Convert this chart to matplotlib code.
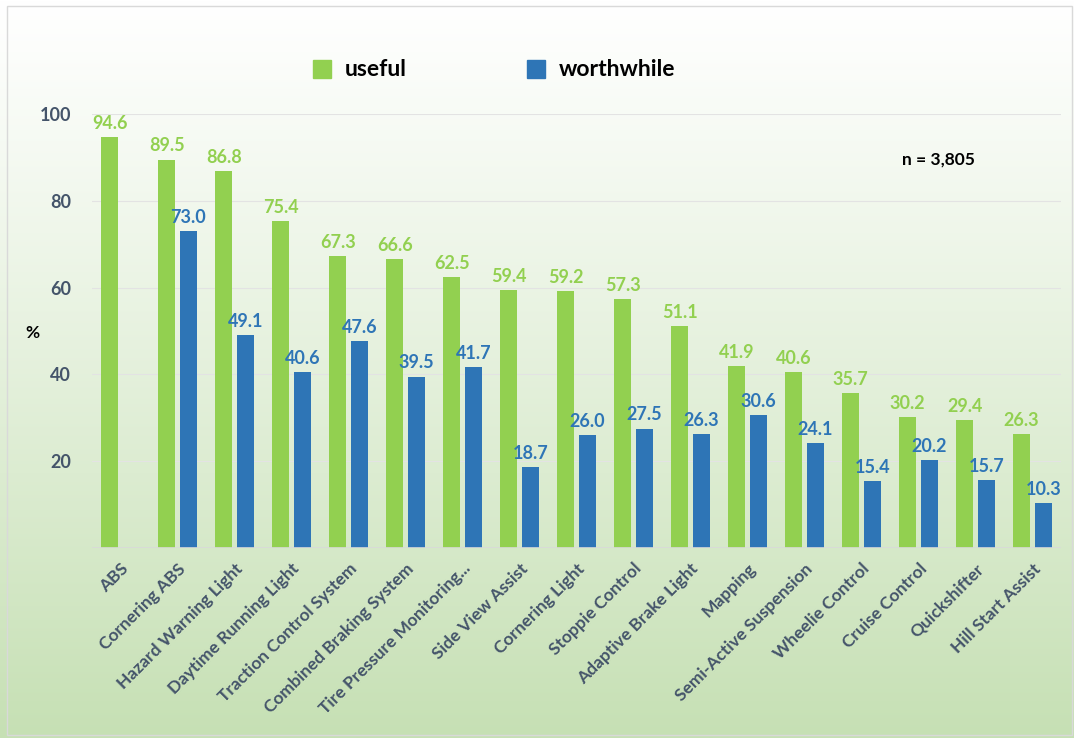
import numpy as np
import matplotlib.pyplot as plt
from matplotlib.patches import Rectangle

plt.rcParams['font.family'] = ['Lato', 'DejaVu Sans']

features = ['ABS', 'Cornering ABS', 'Hazard Warning Light', 'Daytime Running Light',
            'Traction Control System', 'Combined Braking System', 'Tire Pressure Monitoring...',
            'Side View Assist', 'Cornering Light', 'Stoppie Control', 'Adaptive Brake Light',
            'Mapping', 'Semi-Active Suspension', 'Wheelie Control', 'Cruise Control',
            'Quickshifter', 'Hill Start Assist']
useful = [94.6, 89.5, 86.8, 75.4, 67.3, 66.6, 62.5, 59.4, 59.2, 57.3, 51.1,
          41.9, 40.6, 35.7, 30.2, 29.4, 26.3]
worthwhile = [None, 73.0, 49.1, 40.6, 47.6, 39.5, 41.7, 18.7, 26.0, 27.5, 26.3,
              30.6, 24.1, 15.4, 20.2, 15.7, 10.3]
yticks = [20, 40, 60, 80, 100]

GREEN = '#92d050'
BLUE = '#2e75b6'
SLATE = '#44546a'

fig = plt.figure(figsize=(10.74, 7.38), dpi=100)

# background: white fading to pale green, with thin frame
bg = fig.add_axes([0, 0, 1, 1], zorder=-10)
grad = np.linspace(0, 1, 256) ** 1.1
top = np.array([1.0, 1.0, 1.0])
bot = np.array([198, 224, 180]) / 255
img = top[None, :] * (1 - grad[:, None]) + bot[None, :] * grad[:, None]
bg.imshow(img[:, None, :], aspect='auto', extent=[0, 1, 0, 1], origin='upper')
bg.add_patch(Rectangle((7 / 1074, 3 / 738), 1065 / 1074, 729 / 738, fill=False,
                       edgecolor='#d9d9d9', lw=1.0))
bg.set_xlim(0, 1)
bg.set_ylim(0, 1)
bg.axis('off')

ax = fig.add_axes([92 / 1074, 1 - 548 / 738, 969 / 1074, 434 / 738])
ax.patch.set_alpha(0)
x = np.arange(len(features))
w = 0.30
off = 0.19

for i in range(len(features)):
    ax.bar(x[i] - off, useful[i], width=w, color=GREEN, zorder=3)
    ax.text(x[i] - off, useful[i] + 1.2, f'{useful[i]:.1f}', ha='center', va='bottom',
            color=GREEN, fontsize=13, fontweight='bold', clip_on=False)
    if worthwhile[i] is not None:
        ax.bar(x[i] + off, worthwhile[i], width=w, color=BLUE, zorder=3)
        ax.text(x[i] + off, worthwhile[i] + 1.2, f'{worthwhile[i]:.1f}', ha='center',
                va='bottom', color=BLUE, fontsize=13, fontweight='bold', clip_on=False)

ax.set_xlim(-0.5, len(features) - 0.5)
ax.set_ylim(0, 100)
ax.set_yticks(yticks)
ax.set_yticklabels([str(t) for t in yticks], color=SLATE, fontsize=13, fontweight='bold')
ax.tick_params(axis='y', length=0, pad=15)
ax.grid(axis='y', color='#e3e3e3', lw=0.8, zorder=0)
ax.axhline(0, color='#d9d9d9', lw=1.2, zorder=4)
for s in ax.spines.values():
    s.set_visible(False)

ax.set_xticks(x)
ax.set_xticklabels(features, rotation=45, ha='right', va='top', rotation_mode='anchor',
                   color=SLATE, fontsize=12.5, fontweight='bold')
ax.tick_params(axis='x', length=0, pad=9)

fig.text(32 / 1074, 1 - 333 / 738, '%', ha='center', va='center', fontsize=12.5,
         fontweight='bold', color='black')
fig.text(902 / 1074, 1 - 160 / 738, 'n = 3,805', ha='left', va='center', fontsize=12.5,
         fontweight='bold', color='black')

# legend drawn by hand
for xs, label, col in [(313, 'useful', GREEN), (527, 'worthwhile', BLUE)]:
    fig.patches.append(Rectangle((xs / 1074, 1 - 78 / 738), 18 / 1074, 18 / 738,
                                 transform=fig.transFigure, color=col))
    fig.text((xs + 32) / 1074, 1 - 69 / 738, label, ha='left', va='center',
             fontsize=16.5, fontweight='bold', color='black')

fig.savefig('out.png', dpi=100)
